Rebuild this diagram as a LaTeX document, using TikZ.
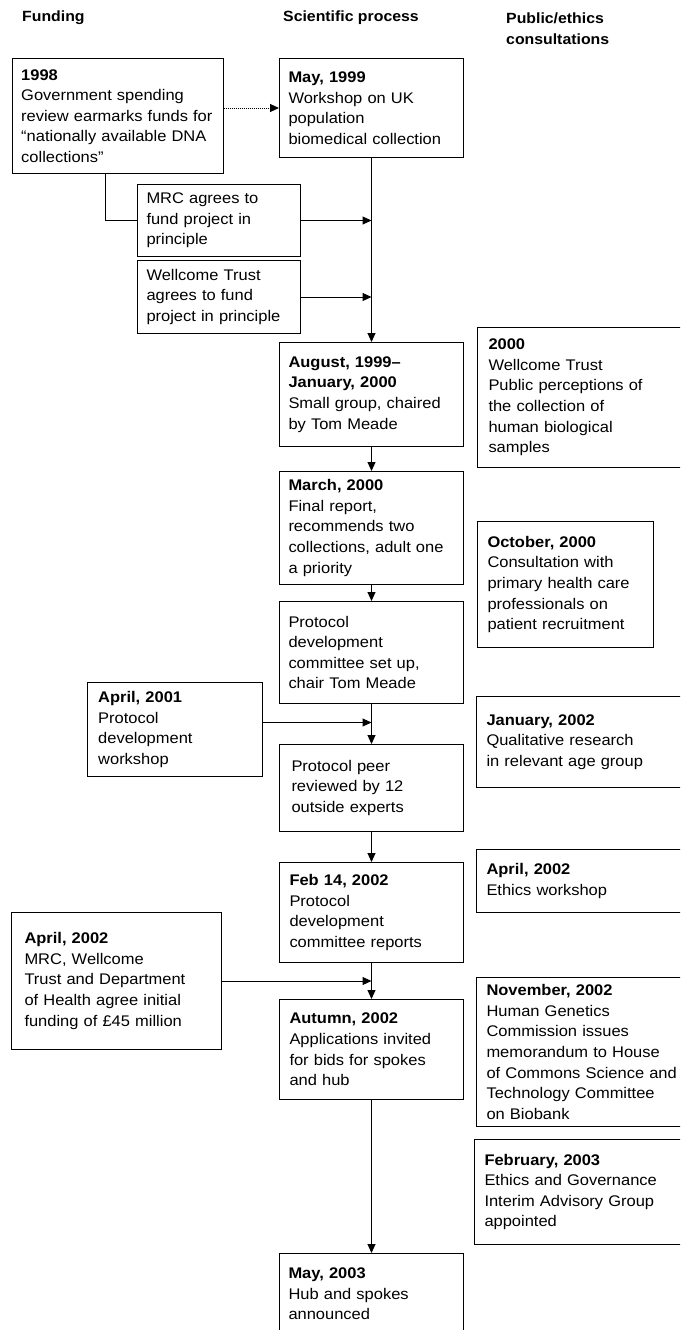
\documentclass[tikz,border=0pt]{standalone}
\usepackage{fontspec}
\usepackage{tikz}
\usetikzlibrary{arrows.meta, calc}
\setmainfont{Liberation Sans}[FakeStretch=1.07]

\begin{document}
\begin{tikzpicture}[x=1pt, y=-1pt,
    every node/.style={font=\fontsize{15.4}{20.6}\selectfont},
    box/.style={draw, line width=1pt, anchor=north west, align=left, inner xsep=9pt, inner ysep=0pt},
    arr/.style={line width=1pt, -{Triangle[length=9pt,width=8pt]}},
    head/.style={anchor=west, align=left, inner sep=0pt, font=\fontsize{14.8}{21}\selectfont\bfseries}]
    % Page frame
    \useasboundingbox (0,0) rectangle (680,1330);
    \clip (0,0) rectangle (680,1330);
    % Column heads
    \node[head] (hfund) at (22,18) {Funding};
    \node[head] (hsci) at (283,18) {Scientific process};
    \node[head] (hpub) at (506,28.5) {Public/ethics\\consultations};

    % Funding column
    \node[box, text width=193pt, minimum height=115pt] (fund1998) at (11.7,58) {\textbf{1998}\\Government spending\\review earmarks funds for\\``nationally available DNA\\collections''};
    \node[box, text width=145pt, minimum height=72pt] (mrc) at (137,184) {MRC agrees to\\fund project in\\principle};
    \node[box, text width=145pt, minimum height=73pt] (wellcome) at (137,260) {Wellcome Trust\\agrees to fund\\project in principle};
    \node[box, inner xsep=11pt, text width=153pt, minimum height=94pt] (apr2001) at (86.7,682) {\textbf{April, 2001}\\Protocol\\development\\workshop};
    \node[box, inner xsep=13pt, text width=184pt, minimum height=137pt] (apr2002f) at (11,912) {\textbf{April, 2002}\\MRC, Wellcome\\Trust and Department\\of Health agree initial\\funding of £45 million};

    % Scientific process column
    \node[box, text width=166pt, minimum height=99pt] (may1999) at (279,58) {\textbf{May, 1999}\\Workshop on UK\\population\\biomedical collection};
    \node[box, text width=166pt, minimum height=104pt] (aug) at (279,342) {\textbf{August, 1999--}\\\textbf{January, 2000}\\Small group, chaired\\by Tom Meade};
    \node[box, text width=166pt, minimum height=113pt] (march) at (279,471) {\textbf{March, 2000}\\Final report,\\recommends two\\collections, adult one\\a priority};
    \node[box, text width=166pt, minimum height=102pt] (protocol) at (279,601) {Protocol\\development\\committee set up,\\chair Tom Meade};
    \node[box, inner xsep=12pt, text width=160pt, minimum height=87pt] (peer) at (279,744) {Protocol peer\\reviewed by 12\\outside experts};
    \node[box, inner xsep=10pt, text width=164pt, minimum height=100pt] (feb14) at (279,862) {\textbf{Feb 14, 2002}\\Protocol\\development\\committee reports};
    \node[box, inner xsep=10pt, text width=164pt, minimum height=100pt] (autumn) at (279,999) {\textbf{Autumn, 2002}\\Applications invited\\for bids for spokes\\and hub};
    \node[box, text width=166pt, minimum height=81pt] (may2003) at (279,1253) {\textbf{May, 2003}\\Hub and spokes\\announced};

    % Public/ethics column
    \node[box, inner xsep=11pt, text width=218pt, minimum height=140pt] (pub2000) at (477,327) {\textbf{2000}\\Wellcome Trust\\Public perceptions of\\the collection of\\human biological\\samples};
    \node[box, inner xsep=10pt, text width=156pt, minimum height=126pt] (oct2000) at (477,521) {\textbf{October, 2000}\\Consultation with\\primary health care\\professionals on\\patient recruitment};
    \node[box, inner xsep=10pt, text width=220pt, minimum height=91pt] (jan2002) at (476,696) {\textbf{January, 2002}\\Qualitative research\\in relevant age group};
    \node[box, inner xsep=10pt, text width=220pt, minimum height=63pt] (apr2002e) at (476,849) {\textbf{April, 2002}\\Ethics workshop};
    \node[box, inner xsep=10pt, text width=220pt, minimum height=149pt] (nov2002) at (476,977) {\textbf{November, 2002}\\Human Genetics\\Commission issues\\memorandum to House\\of Commons Science and\\Technology Committee\\on Biobank};
    \node[box, inner xsep=10pt, text width=220pt, minimum height=105pt] (feb2003) at (474,1139) {\textbf{February, 2003}\\Ethics and Governance\\Interim Advisory Group\\appointed};

    % Main line of the process
    \foreach \a/\b in {may1999/aug, aug/march, march/protocol, protocol/peer, peer/feb14, feb14/autumn, autumn/may2003}
    {
        \draw[arr] (\a) -- (\b);
    }
    % Funding into the process
    \draw[arr, densely dotted] (fund1998.east |- may1999.west) -- (may1999.west);
    \draw[line width=1pt] ([xshift=-12pt]fund1998.south) |- (mrc.west);
    \draw[arr] (mrc.east) -- (mrc.east -| may1999.south);
    \draw[arr] (wellcome.east) -- (wellcome.east -| may1999.south);
    \draw[arr] ([yshift=7pt]apr2001.east) -- ([yshift=7pt]apr2001.east -| protocol.south);
    \draw[arr] (apr2002f.east) -- (apr2002f.east -| feb14.south);
\end{tikzpicture}
\end{document}
